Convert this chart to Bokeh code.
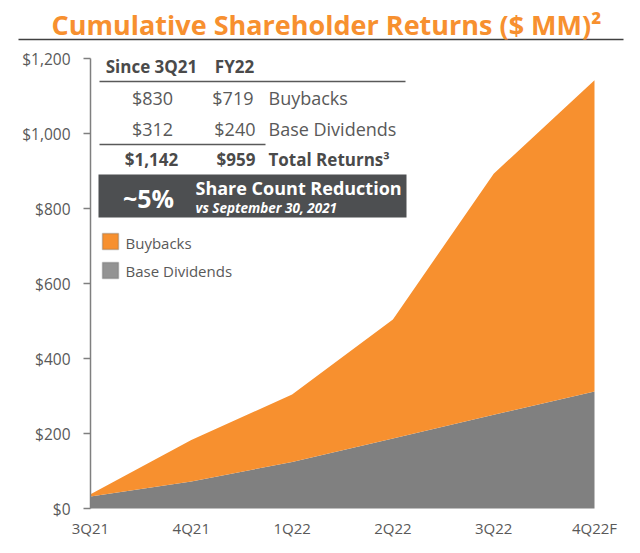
from bokeh.plotting import figure
from bokeh.models import (Label, FixedTicker, NumeralTickFormatter, Range1d,
                          BoxAnnotation, ColumnDataSource)
from bokeh.embed import file_html
from bokeh.resources import INLINE

# ---- data ----
quarters = ["3Q21", "4Q21", "1Q22", "2Q22", "3Q22", "4Q22F"]
base_dividends = [32, 72, 124, 187, 250, 312]
buybacks = [6, 111, 180, 317, 643, 830]
y_ticks = [0, 200, 400, 600, 800, 1000, 1200]

table_cols = ["Since 3Q21", "FY22"]
table_buybacks = ["$830", "$719"]
table_dividends = ["$312", "$240"]
table_totals = ["$1,142", "$959"]

ORANGE = "#F7902F"
GRAY = "#808080"
TXT = "#595959"
DARK = "#4A4A4A"
BOX = "#4D4F51"
FONT = "Open Sans"

W, H = 624, 537
X0, XPX = 90, 100.8     # canvas x of first quarter, px per quarter
Y0, YPX = 508, 0.375    # canvas y of $0, px per $MM


def dx(px):
    return (px - X0) / XPX


def dy(py):
    return (Y0 - py) / YPX


p = figure(width=W, height=H, output_backend="svg", toolbar_location=None,
           x_range=Range1d(dx(0), dx(W)), y_range=Range1d(dy(H), dy(0)),
           min_border=0, min_border_left=0, min_border_right=0,
           min_border_top=0, min_border_bottom=0)
p.outline_line_color = None
p.grid.visible = False
p.background_fill_color = "white"
p.border_fill_color = "white"

src = ColumnDataSource(dict(x=list(range(len(quarters))),
                            div=base_dividends, buy=buybacks))
p.varea_stack(stackers=["div", "buy"], x="x", color=[GRAY, ORANGE], source=src)

# y axis
ya = p.yaxis[0]
ya.fixed_location = 0
ya.bounds = (0, 1200)
ya.ticker = FixedTicker(ticks=y_ticks)
ya.formatter = NumeralTickFormatter(format="$0,0")
ya.axis_line_color = "#7F7F7F"
ya.axis_line_width = 1.5
ya.major_tick_line_color = "#7F7F7F"
ya.major_tick_line_width = 1.5
ya.major_tick_out = 7
ya.major_tick_in = 0
ya.minor_tick_line_color = None
ya.major_label_standoff = 13
ya.major_label_text_font = FONT
ya.major_label_text_font_size = "15.5px"
ya.major_label_text_color = TXT

# x axis
xa = p.xaxis[0]
xa.fixed_location = 0
xa.ticker = FixedTicker(ticks=list(range(len(quarters))))
xa.major_label_overrides = {i: q for i, q in enumerate(quarters)}
xa.axis_line_color = None
xa.major_tick_line_color = None
xa.minor_tick_line_color = None
xa.major_tick_out = 0
xa.major_tick_in = 0
xa.major_label_standoff = 9
xa.major_label_text_font = FONT
xa.major_label_text_font_size = "15px"
xa.major_label_text_color = TXT


def lab(px, py, text, size, color=TXT, align="left", style="normal",
        baseline="middle"):
    p.add_layout(Label(x=dx(px), y=dy(py), text=text, text_font=FONT,
                       text_font_size=size, text_color=color,
                       text_align=align, text_baseline=baseline,
                       text_font_style=style))


# title
lab(326, 24, "Cumulative Shareholder Returns ($ MM)\u00b2", "27px",
    color=ORANGE, align="center", style="bold", baseline="alphabetic")
p.segment(x0=[dx(18)], y0=[dy(39)], x1=[dx(623)], y1=[dy(39)],
          line_color="#404040", line_width=1.5)

# table
lab(151, 66, table_cols[0], "17px", color=DARK, align="center", style="bold")
lab(234, 66, table_cols[1], "17px", color=DARK, align="center", style="bold")
p.segment(x0=[dx(99), dx(99)], y0=[dy(81), dy(144)],
          x1=[dx(405), dx(265)], y1=[dy(81), dy(144)],
          line_color="#595959", line_width=1.5)
lab(152, 97, table_buybacks[0], "18px", align="center")
lab(253, 97, table_buybacks[1], "18px", align="right")
lab(268, 97, "Buybacks", "18px")
lab(152, 128, table_dividends[0], "18px", align="center")
lab(255, 128, table_dividends[1], "18px", align="right")
lab(268, 128, "Base Dividends", "18px")
lab(151, 159, table_totals[0], "17px", color=DARK, align="center", style="bold")
lab(255, 159, table_totals[1], "17px", color=DARK, align="right", style="bold")
lab(268, 159, "Total Returns\u00b3", "17px", color=DARK, style="bold")

p.add_layout(BoxAnnotation(left=dx(98), right=dx(406), top=dy(174),
                           bottom=dy(217), fill_color=BOX, fill_alpha=1,
                           line_color=None))
lab(148, 197, "~5%", "25px", color="white", align="center", style="bold")
lab(195, 187, "Share Count Reduction", "18px", color="white", style="bold")
lab(195, 207, "vs September 30, 2021", "13.5px", color="white",
    style="bold italic")

# legend
p.add_layout(BoxAnnotation(left=dx(102), right=dx(118), top=dy(233),
                           bottom=dy(249), fill_color=ORANGE, fill_alpha=1,
                           line_color="#595959", line_width=1.5))
p.add_layout(BoxAnnotation(left=dx(102), right=dx(118), top=dy(262),
                           bottom=dy(278), fill_color="#939393", fill_alpha=1,
                           line_color="#595959", line_width=1.5))
lab(125, 242, "Buybacks", "15px")
lab(125, 270, "Base Dividends", "15px")

open("out.html", "w").write(file_html(p, INLINE))
